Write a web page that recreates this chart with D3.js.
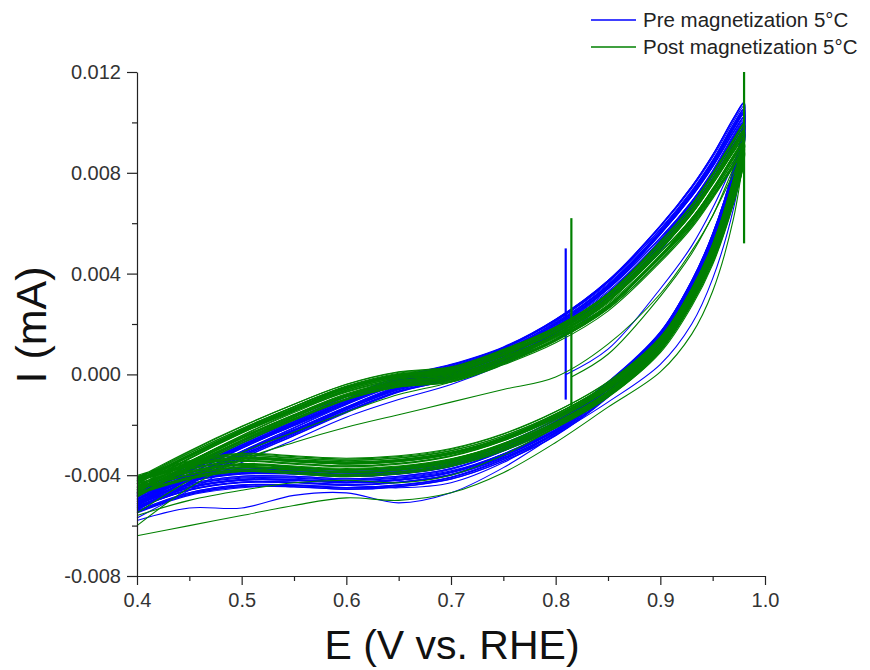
<!DOCTYPE html>
<html>
<head>
<meta charset="utf-8">
<script src="https://cdn.jsdelivr.net/npm/d3@7"></script>
<style>
  html, body { margin: 0; padding: 0; background: #ffffff; }
  svg { display: block; }
  text { font-family: "Liberation Sans", Arial, sans-serif; }
</style>
</head>
<body>
<svg id="chart" width="870" height="670"></svg>
<script>
// ---------------- DATA ----------------
// Potential grid (V vs. RHE) used by the sweeps
const potentials = [0.40, 0.45, 0.50, 0.55, 0.60, 0.65, 0.70, 0.75, 0.80, 0.85, 0.90, 0.93, 0.95, 0.97, 0.98];

// Pre magnetization (blue) – typical steady cycle, current in mA
const preAnodic   = [-0.0050, -0.0040, -0.0030, -0.0021, -0.0012, -0.0004, 0.0001, 0.0008, 0.0019, 0.0034, 0.0055, 0.0070, 0.0082, 0.0096, 0.0102];
const preCathodic = [-0.0051, -0.0044, -0.0041, -0.0041, -0.0042, -0.0041, -0.0038, -0.0031, -0.0021, -0.0006, 0.0014, 0.0034, 0.0052, 0.0077, 0.0096];

// Post magnetization (green) – typical steady cycle
const postAnodic   = [-0.0045, -0.0034, -0.0024, -0.0015, -0.0007, -0.0002, 0.0000, 0.0007, 0.0016, 0.0029, 0.0049, 0.0063, 0.0075, 0.0088, 0.0094];
const postCathodic = [-0.0044, -0.0038, -0.0035, -0.0036, -0.0037, -0.0036, -0.0033, -0.0027, -0.0018, -0.0006, 0.0012, 0.0031, 0.0048, 0.0073, 0.0090];

// Cycle-to-cycle spread of the repeated scans
const cycleGain  = [1.05, 0.97, 1.02, 0.95, 1.04, 0.99, 1.01, 0.96, 1.03, 0.98, 1.00, 0.955, 1.045, 0.975, 1.015, 0.965, 1.035, 0.985, 1.005, 0.96,
                    1.025, 0.99, 1.04, 0.97, 1.01, 0.95, 1.03, 0.98, 1.02, 1.00];
const cycleShift = [0.0001, -0.0003, 0.00025, 0.0000, -0.00015, 0.0003, -0.00025, 0.00015, -0.00005, 0.0002, -0.0002, 0.00005, -0.0001, 0.00028, -0.0003, 0.0001, 0.0002, -0.00012, 0.00008, -0.00018,
                    -0.00008, 0.00012, 0.00018, -0.00022, 0.00022, -0.00004, 0.00003, -0.00016, -0.00027, 0.00014];

// Initial sweeps (start at open circuit ~0.81 V)
const preStartE    = [0.810, 0.85, 0.90, 0.93, 0.95, 0.97, 0.98];
const preStartI    = [0.0000, 0.0010, 0.0034, 0.0051, 0.0066, 0.0084, 0.0094];
const postStartE   = [0.815, 0.85, 0.90, 0.93, 0.95, 0.97, 0.98];
const postStartI   = [-0.0001, 0.0008, 0.0031, 0.0048, 0.0063, 0.0080, 0.0090];

// Early (non steady) cycles on the potential grid
const preFirstCathodic  = [-0.0058, -0.0053, -0.0053, -0.0048, -0.0047, -0.0051, -0.0047, -0.0037, -0.0024, -0.0011, 0.0004, 0.0020, 0.0038, 0.0066, 0.0090];
const preSecondAnodic   = [-0.0057, -0.0046, -0.0035, -0.0026, -0.0017, -0.0010, -0.0004, 0.0004, 0.0014, 0.0029, 0.0049, 0.0065, 0.0077, 0.0092, 0.0099];
const preSecondCathodic = [-0.0055, -0.0048, -0.0045, -0.0044, -0.0044, -0.0045, -0.0043, -0.0035, -0.0023, -0.0008, 0.0011, 0.0031, 0.0048, 0.0073, 0.0094];

const postFirstCathodic  = [-0.0064, -0.0060, -0.0056, -0.0052, -0.0049, -0.0050, -0.0047, -0.0039, -0.0027, -0.0013, 0.0001, 0.0016, 0.0033, 0.0062, 0.0088];
const postSecondAnodic   = [-0.0060, -0.0045, -0.0034, -0.0027, -0.0021, -0.0016, -0.0011, -0.0006, -0.0001, 0.0012, 0.0032, 0.0049, 0.0063, 0.0082, 0.0091];
const postSecondCathodic = [-0.0056, -0.0050, -0.0046, -0.0043, -0.0042, -0.0043, -0.0040, -0.0032, -0.0021, -0.0008, 0.0010, 0.0030, 0.0047, 0.0071, 0.0090];
const postThirdAnodic    = [-0.0055, -0.0042, -0.0031, -0.0023, -0.0015, -0.0008, -0.0003, 0.0005, 0.0015, 0.0027, 0.0047, 0.0062, 0.0073, 0.0087, 0.0093];

// Vertical current spikes: [E, I top, I bottom]
const preSpikes  = [[0.8096, 0.0050, -0.0010]];
const postSpikes = [[0.8150, 0.0062, -0.0013], [0.9800, 0.0120, 0.0052]];

// Axis ticks
const xTicks = [0.4, 0.5, 0.6, 0.7, 0.8, 0.9, 1.0];
const xMinorTicks = [0.45, 0.55, 0.65, 0.75, 0.85, 0.95];
const yTicks = [-0.008, -0.004, 0.000, 0.004, 0.008, 0.012];
const yMinorTicks = [-0.006, -0.002, 0.002, 0.006, 0.010];

const seriesNames = ["Pre magnetization 5°C", "Post magnetization 5°C"];
const seriesColors = ["#0000ff", "#008000"];

// ---------------- CHART ----------------
const svg = d3.select("#chart");
const mLeft = 137, mRight = 765, mTop = 72, mBottom = 576;

const x = d3.scaleLinear().domain([0.4, 1.0]).range([mLeft, mRight]);
const y = d3.scaleLinear().domain([-0.008, 0.012]).range([mBottom, mTop]);

const line = d3.line()
  .x(d => x(d[0])).y(d => y(d[1]))
  .curve(d3.curveCatmullRom.alpha(0.5));

function zipGrid(vals) { return potentials.map((e, i) => [e, vals[i]]); }
function loop(an, ca) {
  const a = zipGrid(an);
  const c = zipGrid(ca).reverse();
  return a.concat(c);
}

function drawSeries(color, startE, startI, early, anodic, cathodic, spikes) {
  const g = svg.append("g").attr("fill", "none").attr("stroke", color).attr("stroke-width", 1.1);
  g.append("path").attr("d", line(startE.map((e, i) => [e, startI[i]])));
  early.forEach(arr => g.append("path").attr("d", line(zipGrid(arr))));
  cycleGain.forEach((gain, k) => {
    const sh = cycleShift[k];
    const an = anodic.map(v => v * gain + sh);
    const ca = cathodic.map(v => v * gain + sh);
    g.append("path").attr("d", line(loop(an, ca)));
  });
  spikes.forEach(s => {
    g.append("line")
      .attr("x1", x(s[0])).attr("x2", x(s[0]))
      .attr("y1", y(s[1])).attr("y2", y(s[2]))
      .attr("stroke-width", 2.2);
  });
}

drawSeries(seriesColors[0], preStartE, preStartI,
  [preFirstCathodic, preSecondAnodic, preSecondCathodic],
  preAnodic, preCathodic, preSpikes);
drawSeries(seriesColors[1], postStartE, postStartI,
  [postFirstCathodic, postSecondAnodic, postSecondCathodic, postThirdAnodic],
  postAnodic, postCathodic, postSpikes);

// Axes
const axisColor = "#222";
svg.append("g").attr("transform", `translate(0,${mBottom})`)
  .call(d3.axisBottom(x).tickValues(xTicks).tickFormat(d => d.toFixed(1)).tickSize(9).tickSizeOuter(0).tickPadding(8));
svg.append("g").attr("transform", `translate(0,${mBottom})`)
  .call(d3.axisBottom(x).tickValues(xMinorTicks).tickFormat("").tickSize(5).tickSizeOuter(0))
  .select(".domain").remove();
svg.append("g").attr("transform", `translate(${mLeft},0)`)
  .call(d3.axisLeft(y).tickValues(yTicks).tickFormat(d => d.toFixed(3)).tickSize(10).tickSizeOuter(0).tickPadding(6));
svg.append("g").attr("transform", `translate(${mLeft},0)`)
  .call(d3.axisLeft(y).tickValues(yMinorTicks).tickFormat("").tickSize(5).tickSizeOuter(0))
  .select(".domain").remove();

svg.selectAll(".domain, .tick line").attr("stroke", axisColor).attr("stroke-width", 1.2);
svg.selectAll(".tick text").attr("fill", "#333").style("font-size", "20px")
  .style("font-family", "'Liberation Sans', Arial, sans-serif");

// Axis titles
svg.append("text").attr("x", (mLeft + mRight) / 2 + 1).attr("y", 659)
  .attr("text-anchor", "middle").style("font-size", "41px").attr("fill", "#111")
  .text("E (V vs. RHE)");
svg.append("text").attr("transform", `translate(46,${(mTop + mBottom) / 2 + 1}) rotate(-90)`)
  .attr("text-anchor", "middle").style("font-size", "43px").attr("fill", "#111")
  .text("I (mA)");

// Legend
const legend = svg.append("g");
seriesNames.forEach((name, i) => {
  const ly = 20 + i * 27;
  legend.append("line").attr("x1", 591).attr("x2", 636).attr("y1", ly).attr("y2", ly)
    .attr("stroke", seriesColors[i]).attr("stroke-width", 1.3);
  legend.append("text").attr("x", 643).attr("y", ly).attr("dy", "0.35em")
    .style("font-size", "20.5px").attr("fill", "#222").text(name);
});
</script>
</body>
</html>
